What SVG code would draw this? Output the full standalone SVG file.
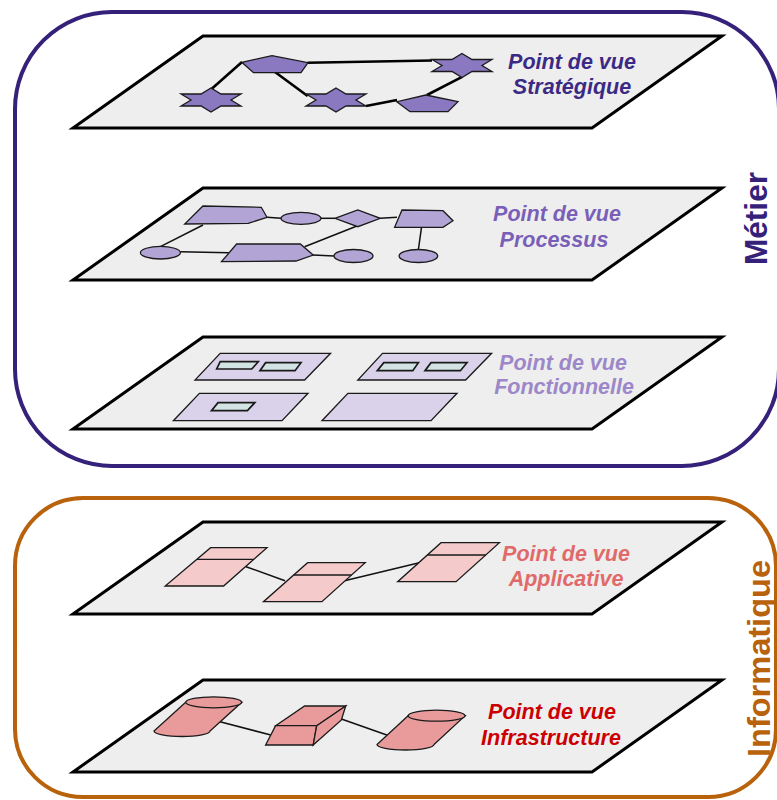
<svg xmlns="http://www.w3.org/2000/svg" xmlns:xlink="http://www.w3.org/1999/xlink" width="777" height="800" viewBox="0 0 777 800">
<style>
.plane{fill:#EEEEEE;stroke:#000;stroke-width:3;stroke-linejoin:miter}
.shape{stroke:#1a1a1a;stroke-width:1.3}
.strat{fill:#8A78C0}
.proc{fill:#B2A5D6}
.fbig{fill:#D9D2EA}
.fsmall{fill:#D2E3E3;stroke-width:1.7}
.app{fill:#F5CACA}
.infra{fill:#E99B9B}
.conn1{stroke:#000;stroke-width:2.6;fill:none}
.conn{stroke:#111;stroke-width:1.5;fill:none}
.lbl{font-family:"Liberation Sans",Arial,sans-serif;font-weight:bold;font-style:italic;font-size:21.5px;text-anchor:middle}
.side{font-family:"Liberation Sans",Arial,sans-serif;font-weight:bold;font-size:31px;text-anchor:middle}
</style>
<defs>
<polygon id="planeShape" points="130,0 649,0 519,92 0,92"/>
<polygon id="star" points="0,-12 10,-6 30,-6 20,0 30,6 10,6 0,12 -10,6 -30,6 -20,0 -30,-6 -10,-6"/>
</defs>

<g id="metier">
<rect x="15" y="12" width="764" height="454" rx="97" ry="97" fill="none" stroke="#35217A" stroke-width="4"/>
<text class="side" fill="#35217A" transform="translate(767,218.5) rotate(-90)" textLength="93" lengthAdjust="spacingAndGlyphs">Métier</text>
</g>
<g id="informatique">
<rect x="15" y="498" width="761" height="299" rx="68" ry="68" fill="none" stroke="#B8620C" stroke-width="4"/>
<text class="side" fill="#B8620C" transform="translate(770,658.5) rotate(-90)" textLength="197" lengthAdjust="spacingAndGlyphs">Informatique</text>
</g>

<g id="plane-strategique"><use xlink:href="#planeShape" class="plane" transform="translate(73,36)"/></g>
<g id="plane-processus"><use xlink:href="#planeShape" class="plane" transform="translate(73,188)"/></g>
<g id="plane-fonctionnelle"><use xlink:href="#planeShape" class="plane" transform="translate(73,337)"/></g>
<g id="plane-applicative"><use xlink:href="#planeShape" class="plane" transform="translate(73,522)"/></g>
<g id="plane-infrastructure"><use xlink:href="#planeShape" class="plane" transform="translate(73,680)"/></g>

<g id="connectors">
<line class="conn1" x1="242" y1="62" x2="211.5" y2="89"/>
<line class="conn1" x1="275" y1="72" x2="307.6" y2="96"/>
<line class="conn1" x1="307.6" y1="62.7" x2="432" y2="60.5"/>
<line class="conn1" x1="462.6" y1="76.7" x2="427" y2="95"/>
<line class="conn1" x1="366" y1="106" x2="397" y2="100"/>

<line class="conn" x1="203" y1="225" x2="160.4" y2="246.7"/>
<line class="conn" x1="180.3" y1="251.7" x2="228.8" y2="252.7"/>
<line class="conn" x1="313" y1="255" x2="334" y2="256"/>
<line class="conn" x1="304.6" y1="246.7" x2="362" y2="224"/>
<line class="conn" x1="267" y1="217.3" x2="281" y2="218.3"/>
<line class="conn" x1="321" y1="218.3" x2="335" y2="218.3"/>
<line class="conn" x1="380.3" y1="218.3" x2="397" y2="217.3"/>
<line class="conn" x1="421.5" y1="227.3" x2="418.4" y2="249.5"/>

<line class="conn" x1="246" y1="566.7" x2="285" y2="580.7"/>
<line class="conn" x1="343.5" y1="581" x2="419.3" y2="562.7"/>

<line class="conn" x1="220" y1="721.7" x2="270.8" y2="735"/>
<line class="conn" x1="341.4" y1="719" x2="386.8" y2="735"/>
</g>

<g id="strategique">
<g id="s-star1"><use xlink:href="#star" class="shape strat" transform="translate(211,100)"/></g>
<g id="s-star2"><use xlink:href="#star" class="shape strat" transform="translate(336,100)"/></g>
<g id="s-star3"><use xlink:href="#star" class="shape strat" transform="translate(462,65.5)"/></g>
<g id="s-pent1"><polygon class="shape strat" points="241.8,62.3 272,55.7 308,62.7 301,72.7 253.5,72.7"/></g>
<g id="s-pent2"><polygon class="shape strat" points="425.8,95 458,101.7 448,111.7 410,111.7 396.8,101.7"/></g>
<text class="lbl" fill="#3B2A84" x="572" y="69">Point de vue</text>
<text class="lbl" fill="#3B2A84" x="572" y="94">Stratégique</text>
</g>

<g id="processus">
<g id="p-a"><polygon class="shape proc" points="202.9,206 261.3,207.3 267,217.3 248.3,223.3 184.7,224"/></g>
<g id="p-b"><ellipse class="shape proc" cx="301" cy="218.3" rx="20" ry="6"/></g>
<g id="p-c"><polygon class="shape proc" points="334.9,218.3 357.8,210 380.3,218.3 357.8,226.7"/></g>
<g id="p-d"><polygon class="shape proc" points="402,210 443,210.7 453,220.7 443,227.3 394.6,227.3"/></g>
<g id="p-e"><ellipse class="shape proc" cx="160.4" cy="252.7" rx="20" ry="6.3"/></g>
<g id="p-f"><polygon class="shape proc" points="236.6,244 300.3,244 313.2,255 296,261 221.5,261.7"/></g>
<g id="p-g"><ellipse class="shape proc" cx="418.4" cy="256" rx="19.3" ry="6.5"/></g>
<g id="p-h"><ellipse class="shape proc" cx="353.5" cy="256" rx="19.5" ry="6.5"/></g>
<text class="lbl" fill="#7A5FB8" x="557" y="221">Point de vue</text>
<text class="lbl" fill="#7A5FB8" x="554" y="247">Processus</text>
</g>

<g id="fonctionnelle">
<g id="f-1">
<polygon class="shape fbig" points="220.2,353.3 330.6,353.3 304.6,380 195,380"/>
<polygon class="shape fsmall" points="220.2,361.7 258.3,361.7 251.8,369 216.7,369"/>
<polygon class="shape fsmall" points="265.6,362.7 301,362.7 295,370.7 260,370.7"/>
</g>
<g id="f-2">
<polygon class="shape fbig" points="382.5,353.3 491.6,353.3 465.6,380 357.8,380"/>
<polygon class="shape fsmall" points="383.8,362.7 418.4,362.7 412.8,370.7 377.3,370.7"/>
<polygon class="shape fsmall" points="431,362.7 467,362.7 460.4,370.7 425,370.7"/>
</g>
<g id="f-3">
<polygon class="shape fbig" points="199.4,393.3 308,393.3 282,420.7 173.4,420.7"/>
<polygon class="shape fsmall" points="218,402.7 254.8,402.7 247.4,410.7 211.5,410.7"/>
</g>
<g id="f-4">
<polygon class="shape fbig" points="347.9,393.3 457,393.3 431,420.7 322,420.7"/>
</g>
<text class="lbl" fill="#9C88C8" x="563" y="370">Point de vue</text>
<text class="lbl" fill="#9C88C8" x="564" y="394">Fonctionnelle</text>
</g>

<g id="applicative">
<g id="a-1">
<polygon class="shape app" points="210.6,547.7 267,547.7 223.6,586 165.2,586"/>
<line class="shape" x1="196.9" y1="559.3" x2="253.3" y2="559.3"/>
</g>
<g id="a-2">
<polygon class="shape app" points="307.6,562.7 365.2,562.7 321.9,601.7 263.5,601.7"/>
<line class="shape" x1="293.8" y1="575" x2="351.5" y2="575"/>
</g>
<g id="a-3">
<polygon class="shape app" points="441,542.7 499.4,542.7 456.1,581.7 397.7,581.7"/>
<line class="shape" x1="427.5" y1="555" x2="485.8" y2="555"/>
</g>
<text class="lbl" fill="#E06A6A" x="566" y="561">Point de vue</text>
<text class="lbl" fill="#E06A6A" x="566" y="586">Applicative</text>
</g>

<g id="infrastructure">
<g id="i-cyl1">
<path class="shape infra" d="M185.7,702.3 L154,731 A28,5.5 0 0 0 210,731 L241.7,702.3 Z"/>
<ellipse class="shape infra" cx="213.7" cy="702.3" rx="28" ry="5.5"/>
</g>
<g id="i-box">
<polygon class="shape infra" points="275.6,725.7 304.6,706 345.7,706 316.7,725.7"/>
<polygon class="shape infra" points="275.6,725.7 316.7,725.7 313.2,745 265.6,745"/>
<polygon class="shape infra" points="316.7,725.7 345.7,706 341.4,720 313.2,745"/>
</g>
<g id="i-cyl2">
<path class="shape infra" d="M408.1,715.7 L377,744.5 A28.5,5.5 0 0 0 434,744.5 L465.1,715.7 Z"/>
<ellipse class="shape infra" cx="436.6" cy="715.7" rx="28.5" ry="5.5"/>
</g>
<text class="lbl" fill="#CC0000" x="552" y="719">Point de vue</text>
<text class="lbl" fill="#CC0000" x="551" y="745">Infrastructure</text>
</g>
</svg>
